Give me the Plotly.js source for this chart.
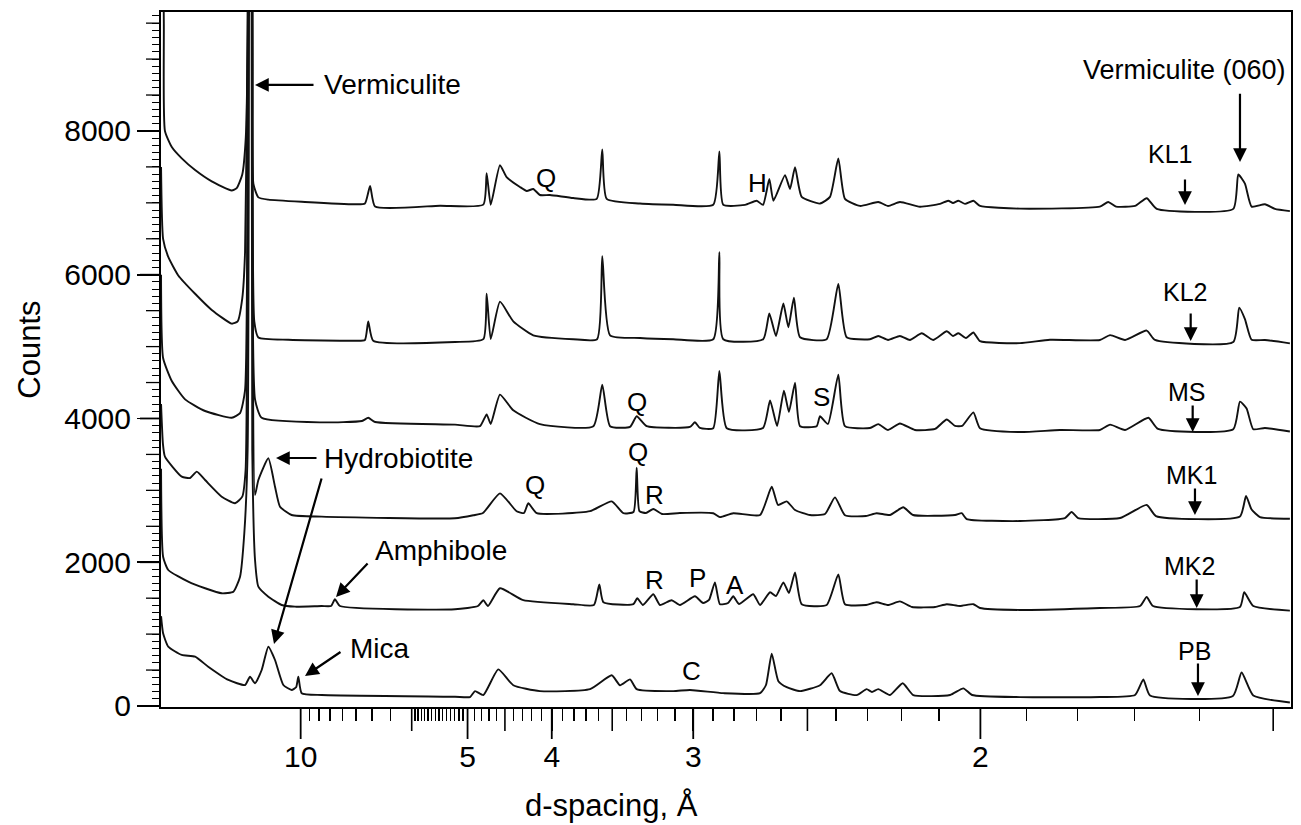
<!DOCTYPE html>
<html>
<head>
<meta charset="utf-8">
<script src="https://cdn.plot.ly/plotly-3.0.1.min.js"></script>
<style>html,body{margin:0;padding:0;background:#fff}#chart{width:1301px;height:825px}</style>
</head>
<body>
<div id="chart"></div>
<script>
// ---- data: 2-theta (deg) vs counts ----
const KL1_X = [1.30,1.45,1.51,1.88,2.42,3.14,4.04,5.12,5.39,5.69,5.88,5.98,6.11,6.24,6.29,6.56,7.10,9.08,11.78,12.32,12.60,12.87,16.38,18.72,18.90,19.12,19.62,19.98,20.70,21.07,21.42,21.78,22.32,23.58,24.85,25.15,25.39,27.19,28.99,31.15,31.48,31.69,32.87,33.50,33.84,34.18,34.40,35.03,35.30,35.57,35.93,36.92,37.46,37.91,38.27,39.08,40.07,40.60,41.24,42.32,43.41,43.85,44.11,44.40,44.76,45.21,45.57,47.73,52.05,52.50,52.92,53.95,54.58,55.12,59.26,59.53,59.89,60.25,60.97,61.51,62.32];
const KL1_Y = [14000,9500,8000,7777,7619,7457,7299,7172,7204,7395,7907,9184,30000,9184,7267,7076,7044,7012,6980,6990,7235,6948,6960,6975,7413,6973,7524,7358,7221,7165,7193,7109,7109,7067,7055,7744,7055,6990,6973,6973,7716,6973,6971,7029,6971,7331,7029,7386,7193,7496,7083,6990,7083,7617,7055,6957,7012,6957,7012,6945,6985,7029,6998,7029,6985,7029,6957,6919,6948,7012,6948,6957,7064,6916,6916,7395,7267,6948,6980,6915,6884];

const KL2_X = [1.30,1.41,1.69,2.23,3.14,4.04,5.12,5.44,5.69,5.84,5.98,6.11,6.24,6.34,6.56,8.18,11.78,12.32,12.50,12.77,17.19,18.72,18.90,19.12,19.62,20.34,21.42,23.58,24.87,25.15,25.57,27.19,28.99,31.15,31.48,31.69,33.85,34.18,34.54,34.94,35.21,35.51,35.84,37.28,37.91,38.36,39.62,40.07,40.60,41.24,41.78,42.42,43.03,43.77,44.11,44.40,44.81,45.21,45.57,47.73,49.35,52.05,52.60,53.41,54.58,55.03,59.26,59.58,59.89,60.25,60.97,62.32];
const KL2_Y = [7500,6500,6247,5990,5735,5510,5319,5351,5671,6310,9500,30000,9500,5351,5127,5095,5082,5092,5351,5082,5064,5103,5735,5106,5625,5351,5157,5103,5103,6258,5157,5120,5103,5103,6314,5103,5103,5461,5148,5599,5268,5681,5130,5103,5873,5130,5103,5148,5092,5148,5092,5185,5092,5213,5148,5185,5120,5197,5075,5048,5095,5092,5159,5092,5223,5092,5064,5543,5383,5095,5092,5045];

const MS_X = [1.30,1.41,1.88,2.60,3.68,5.12,5.57,5.84,5.99,6.11,6.23,6.38,6.74,9.98,12.16,12.50,12.87,17.19,18.54,18.90,19.12,19.62,20.34,21.78,24.67,25.15,25.57,26.65,27.01,27.55,29.89,30.16,30.43,31.15,31.48,31.88,33.84,34.22,34.60,34.97,35.24,35.57,35.84,36.74,36.92,37.35,37.91,38.27,39.62,40.07,40.60,41.24,42.05,43.14,43.77,44.22,44.60,45.21,45.57,47.73,49.89,52.05,52.60,53.41,54.67,55.19,59.26,59.62,59.98,60.34,60.97,62.32];
const MS_Y = [6000,4842,4522,4266,4104,4010,4074,4392,9000,30000,9000,4266,4010,3946,3965,4010,3951,3914,3893,4057,3924,4332,4113,3921,3893,4470,3893,3882,4031,3893,3882,3947,3868,3865,4662,3865,3868,4250,3896,4388,4090,4498,3893,3893,4031,3924,4608,3893,3868,3921,3840,3930,3840,3854,3986,3896,3896,4085,3865,3811,3840,3840,3914,3840,4010,3854,3850,4234,4138,3850,3868,3818];

const MK1_X = [1.30,1.40,1.51,2.42,2.87,3.23,3.68,4.58,5.30,5.69,5.87,5.99,6.11,6.23,6.38,6.56,7.10,7.46,7.73,8.36,9.98,17.19,18.18,18.70,19.62,20.52,20.92,21.15,21.61,24.49,25.66,26.29,26.84,27.01,27.16,27.51,27.91,28.38,29.35,31.15,31.51,32.23,33.68,34.31,34.65,35.12,35.57,36.38,37.19,37.73,38.27,39.41,39.98,40.70,41.42,41.95,44.22,44.58,44.85,47.73,50.16,50.52,50.87,53.14,54.58,55.08,59.62,59.95,60.25,60.70,62.32];
const MK1_Y = [4200,3650,3469,3190,3172,3260,3144,2912,2820,2912,3283,8000,30000,8000,2936,3144,3446,3051,2773,2657,2634,2612,2654,2685,2958,2710,2685,2820,2682,2710,2847,2682,2699,3315,2710,2685,2741,2671,2685,2682,2627,2682,2657,3051,2797,2847,2727,2657,2671,2902,2654,2643,2682,2657,2765,2657,2657,2682,2601,2573,2615,2699,2615,2615,2797,2643,2636,2923,2733,2629,2605];

const MK2_X = [1.30,1.41,1.69,2.77,3.68,4.58,5.21,5.57,5.80,5.98,6.12,6.23,6.38,6.56,7.10,7.82,8.54,9.98,10.49,10.70,10.97,17.19,18.43,18.72,18.97,19.62,20.88,23.58,24.70,24.99,25.21,26.83,27.04,27.35,27.91,28.27,28.90,29.35,30.16,30.60,30.92,31.24,31.51,31.95,32.23,32.54,33.31,33.68,34.22,34.54,34.94,35.24,35.57,35.93,37.28,37.91,38.27,39.41,39.98,40.60,41.24,41.89,43.14,43.77,44.49,45.21,45.57,47.73,52.05,54.22,54.58,54.92,59.62,59.85,60.34,62.32];
const MK2_Y = [3300,2077,1892,1729,1638,1568,1590,1799,2403,3562,30000,3562,2031,1660,1521,1405,1382,1391,1391,1485,1391,1345,1391,1472,1391,1638,1472,1416,1405,1692,1444,1416,1500,1405,1554,1405,1472,1405,1526,1433,1475,1720,1416,1433,1526,1419,1554,1405,1582,1530,1720,1572,1857,1416,1405,1830,1416,1405,1444,1405,1455,1377,1377,1416,1391,1416,1363,1336,1363,1391,1518,1391,1377,1582,1391,1327];

const PB_X = [1.30,1.41,1.69,2.42,3.14,3.85,4.94,5.84,6.11,6.38,6.74,7.10,7.46,7.91,8.36,8.60,8.72,8.90,9.98,17.19,18.00,18.27,18.72,19.53,20.34,21.78,24.49,25.66,26.11,26.65,27.01,28.99,29.89,31.69,33.68,34.00,34.31,34.67,35.12,35.84,36.92,37.55,38.00,38.90,39.44,39.73,40.07,40.70,41.39,41.96,43.95,44.67,45.14,47.73,52.05,53.95,54.40,54.76,59.24,59.71,60.34,62.32];
const PB_Y = [1250,1011,825,710,686,547,362,292,408,316,501,825,640,292,223,260,408,177,153,129,125,207,152,509,289,207,234,427,289,371,234,207,223,179,179,292,729,345,262,207,289,455,207,152,234,195,234,153,317,152,153,245,153,124,125,153,368,145,139,465,145,49];

// d-spacing tick labels (Angstrom)
const D_MAJOR = [10, 5, 4, 3, 2];
const D_MAJOR_TEXT = ['10', '5', '4', '3', '2'];
const D_MEDIUM = [6, 4.5, 3.5, 2.5, 1.5];
const Y_MAJOR = [0, 2000, 4000, 6000, 8000];

// ---- axis calibration: d-spacing -> 2-theta position of the printed scale ----
function pos(d) { return -0.065 + 88.57 / d + 5.48 / (d * d); }

const minorD = [];
[9.5, 9, 8.5, 8, 7.5, 7, 6.5].forEach(v => minorD.push(v));
for (let k = 1; k < 15; k++) minorD.push(6 - k / 15);
function addSteps(hi, lo, skip) {
  for (let v = hi - 0.1; v > lo + 0.05; v -= 0.1) {
    const r = Math.round(v * 10) / 10;
    if (skip !== r) minorD.push(r);
  }
}
addSteps(5, 4, 4.5); addSteps(4, 3, 3.5); addSteps(3, 2, 2.5); addSteps(2, 1.5, null);

const FONT = 'Liberation Sans, Arial, sans-serif';
const LINE = {color: '#111', width: 1.9, shape: 'spline', smoothing: 0.5};
function tr(x, y, name) { return {x: x, y: y, name: name, type: 'scatter', mode: 'lines', line: LINE, hoverinfo: 'skip', showlegend: false}; }

const data = [
  tr(KL1_X, KL1_Y, 'KL1'), tr(KL2_X, KL2_Y, 'KL2'), tr(MS_X, MS_Y, 'MS'),
  tr(MK1_X, MK1_Y, 'MK1'), tr(MK2_X, MK2_Y, 'MK2'), tr(PB_X, PB_Y, 'PB')
];

const XR = [1.297, 62.38];
const YR = [-14, 9655];
const M = {l: 161, r: 10, t: 12, b: 118};
const PW = 1301 - M.l - M.r, PH = 825 - M.t - M.b;

// long / medium tick marks drawn as paper-referenced shapes (not clipped)
function xp(v) { return (v - XR[0]) / (XR[1] - XR[0]); }
function yp(v) { return (v - YR[0]) / (YR[1] - YR[0]); }
const shapes = [];
function xTick(d, len, w) {
  const p = xp(pos(d));
  shapes.push({type: 'line', xref: 'paper', yref: 'paper', x0: p, x1: p, y0: 0, y1: -len / PH,
    line: {color: '#000', width: w}, layer: 'above'});
}
function yTick(v, len, w) {
  const p = yp(v);
  shapes.push({type: 'line', xref: 'paper', yref: 'paper', x0: 0, x1: -len / PW, y0: p, y1: p,
    line: {color: '#000', width: w}, layer: 'above'});
}
D_MAJOR.forEach(d => xTick(d, 32, 1.8));
D_MEDIUM.forEach(d => xTick(d, 24, 1.6));
Y_MAJOR.forEach(v => yTick(v, 21, 1.8));
for (let v = 500; v < 9600; v += 500) if (v % 2000 !== 0) yTick(v, 15, 1.3);

function arrow(hx, hy, tx, ty) {
  return {x: hx, y: hy, ax: tx, ay: ty, xref: 'x', yref: 'y', axref: 'x', ayref: 'y', text: '', showarrow: true,
    arrowhead: 2, arrowsize: 1.25, arrowwidth: 2.2, arrowcolor: '#000', standoff: 0, startstandoff: 0};
}
function label(x, y, text, size, anchor) {
  return {x: x, y: y, xref: 'x', yref: 'y', text: text, showarrow: false, xanchor: anchor || 'center', yanchor: 'middle',
    font: {family: FONT, size: size, color: '#000'}};
}

const annotations = [
  arrow(6.378, 8640, 9.622, 8640),
  arrow(7.514, 3450, 9.784, 3450),
  arrow(7.405, 863, 10.0, 3186),
  arrow(10.757, 1517, 12.541, 2003),
  arrow(9.081, 417, 11.081, 765),
  arrow(59.622, 7569, 59.622, 8540),
  arrow(56.649, 6970, 56.649, 7346),
  arrow(56.957, 5078, 56.957, 5482),
  arrow(57.065, 3812, 57.065, 4202),
  arrow(57.189, 2657, 57.189, 3047),
  arrow(57.281, 1363, 57.281, 1781),
  arrow(57.351, 139, 57.351, 612),
  label(10.0, 8640, 'Vermiculite', 28, 'left'),
  label(62.22, 8850, 'Vermiculite (060)', 27, 'right'),
  label(10.0, 3450, 'Hydrobiotite', 28, 'left'),
  label(12.757, 2170, 'Amphibole', 28, 'left'),
  label(11.405, 793, 'Mica', 28, 'left'),
  label(22.108, 7346, 'Q', 26), label(27.027, 4230, 'Q', 26),
  label(21.514, 3075, 'Q', 26), label(27.081, 3534, 'Q', 26), label(28.0, 2936, 'R', 26),
  label(28.0, 1753, 'R', 26), label(30.324, 1781, 'P', 26), label(32.324, 1683, 'A', 26),
  label(30.0, 487, 'C', 26), label(33.568, 7276, 'H', 26), label(37.0, 4299, 'S', 26),
  label(55.838, 7680, 'KL1', 25), label(56.649, 5760, 'KL2', 25), label(56.757, 4369, 'MS', 25),
  label(57.027, 3214, 'MK1', 25), label(56.919, 1948, 'MK2', 25), label(57.189, 765, 'PB', 25),
  {xref: 'paper', yref: 'paper', x: 0.399, y: -0.1424, text: 'd-spacing, Å', showarrow: false,
   xanchor: 'center', yanchor: 'middle', font: {family: FONT, size: 31, color: '#000'}},
  {xref: 'paper', yref: 'paper', x: -0.116, y: 0.514, text: 'Counts', textangle: -90, showarrow: false,
   xanchor: 'center', yanchor: 'middle', font: {family: FONT, size: 31, color: '#000'}}
];

const layout = {
  width: 1301, height: 825,
  margin: M,
  paper_bgcolor: '#fff', plot_bgcolor: '#fff',
  font: {family: FONT, size: 28, color: '#000'},
  showlegend: false,
  xaxis: {
    range: XR, showgrid: false, zeroline: false,
    showline: true, mirror: true, linecolor: '#000', linewidth: 2,
    tickmode: 'array', tickvals: D_MAJOR.map(pos), ticktext: D_MAJOR_TEXT,
    ticks: 'outside', ticklen: 22, tickwidth: 1.6, tickcolor: '#000',
    tickfont: {family: FONT, size: 30, color: '#000'},
    minor: {tickmode: 'array', tickvals: minorD.map(pos), ticks: 'outside', ticklen: 12, tickwidth: 1.4, tickcolor: '#000', showgrid: false}
  },
  yaxis: {
    range: YR, showgrid: false, zeroline: false,
    showline: true, mirror: true, linecolor: '#000', linewidth: 2,
    tickmode: 'linear', tick0: 0, dtick: 2000,
    ticks: 'outside', ticklen: 22, tickwidth: 1.6, tickcolor: '#000',
    tickfont: {family: FONT, size: 30, color: '#000'},
    minor: {dtick: 100, tick0: 0, ticks: 'outside', ticklen: 7, tickwidth: 1, tickcolor: '#000', showgrid: false}
  },
  shapes: shapes,
  annotations: annotations
};

Plotly.newPlot('chart', data, layout, {staticPlot: true, displayModeBar: false});
</script>
</body>
</html>
